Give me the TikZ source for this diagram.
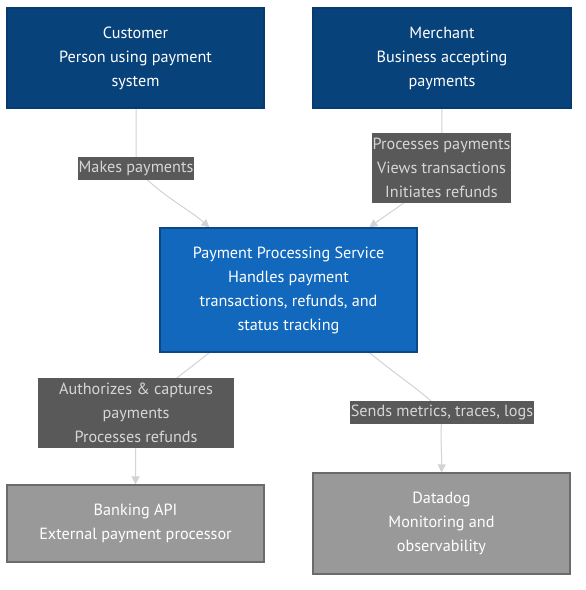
\documentclass[tikz,border=0pt]{standalone}
\usepackage{fontspec}
\setmainfont{PT Sans}
\usetikzlibrary{backgrounds,arrows.meta,calc}
\definecolor{person}{HTML}{08427B}
\definecolor{personborder}{HTML}{073B6F}
\definecolor{system}{HTML}{1168BD}
\definecolor{systemborder}{HTML}{0B4884}
\definecolor{ext}{HTML}{999999}
\definecolor{extborder}{HTML}{6B6B6B}
\definecolor{edgecol}{HTML}{D3D3D3}
\definecolor{labbg}{HTML}{595959}
\definecolor{labtext}{HTML}{D6D6D6}
\tikzset{
  box/.style={draw, line width=1.2pt, text=white, align=center, inner sep=2pt,
    font=\fontsize{16.2}{24}\selectfont},
  personbox/.style={box, fill=person, draw=personborder, minimum width=257pt, minimum height=100pt},
  sysbox/.style={box, fill=system, draw=systemborder, minimum width=257pt, minimum height=124pt},
  extbox/.style={box, fill=ext, draw=extborder},
  elabel/.style={fill=labbg, text=labtext, align=center, inner xsep=0.5pt, inner ysep=1pt,
    font=\fontsize{16.2}{24}\selectfont},
  onelabel/.style={elabel, minimum height=23pt},
  threelabel/.style={elabel, minimum height=70pt},
  edge/.style={draw=edgecol, line width=1pt, -{Triangle[length=8pt,width=8pt]}}
}
\begin{document}
\begin{tikzpicture}[x=1pt,y=-1pt]
\useasboundingbox (0,0) rectangle (586,590);
\node[personbox] (cust) at (135.5,58) {Customer\\Person using payment\\system};
\node[personbox, minimum width=258pt] (merch) at (442,58) {Merchant\\Business accepting\\payments};
\node[sysbox] (pps) at (288.5,290) {Payment Processing Service\\Handles payment\\transactions, refunds, and\\status tracking};
\node[extbox, minimum width=257pt, minimum height=77pt] (bank) at (135.5,523.5) {Banking API\\External payment processor};
\node[extbox, minimum width=257pt, minimum height=101pt] (dd) at (441.5,523.5) {Datadog\\Monitoring and\\observability};

\node[onelabel] (l1) at (136,168.5) {Makes payments};
\node[threelabel] (l2) at (441.5,168) {Processes payments\\Views transactions\\Initiates refunds};
\node[threelabel, minimum width=196pt] (l3) at (136,413) {Authorizes \& captures\\payments\\Processes refunds};
\node[onelabel] (l4) at (442,412.5) {Sends metrics, traces, logs};

\coordinate (t1) at ($(pps.north west)+(50,0)$);
\coordinate (t2) at ($(pps.north west)+(210,0)$);
\coordinate (s3) at ($(pps.south west)+(50,0)$);
\coordinate (s4) at ($(pps.south west)+(210,0)$);
\coordinate (c1) at ($(cust.south)+(0.5,0)$);

\begin{pgfonlayer}{background}
\fill[white] (0,0) rectangle (586,590);
\draw[edge] (c1) .. controls (136,140) and (136,160) .. (l1.center) .. controls (160,195) and (190,210) .. (t1);
\draw[edge] (merch.south) -- (l2.center) .. controls (415,198) and (390,212) .. (t2);
\draw[edge] (s3) .. controls (185,372) and (160,390) .. (l3.center) -- (bank.north);
\draw[edge] (s4) .. controls (400,378) and (428,395) .. (l4.center) .. controls (440,440) and (442,455) .. (dd.north);
\end{pgfonlayer}
\end{tikzpicture}
\end{document}
